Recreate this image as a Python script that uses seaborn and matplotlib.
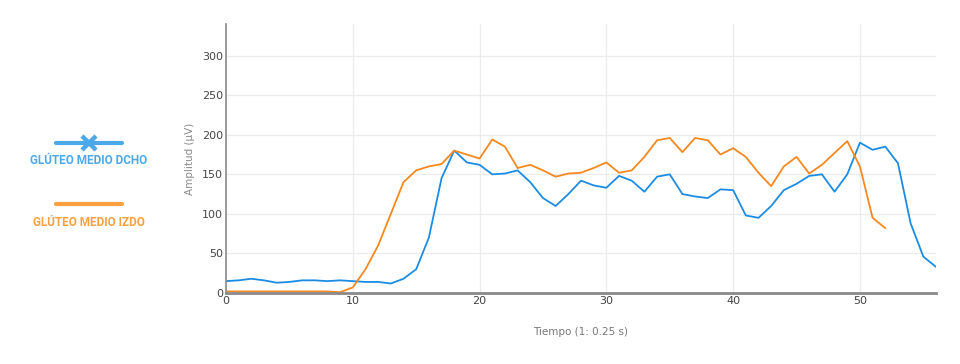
import numpy as np
import pandas as pd
import matplotlib
matplotlib.use("Agg")
import matplotlib.pyplot as plt
import seaborn as sns
from matplotlib.lines import Line2D

# Data
tiempo_dcho = list(range(0, 57))
dcho = [15, 16, 18, 16, 13, 14, 16, 16, 15, 16, 15, 14, 14, 12, 18, 30, 70, 145, 180, 165,
        162, 150, 151, 155, 140, 120, 110, 125, 142, 136, 133, 148, 142, 128, 147, 150,
        125, 122, 120, 131, 130, 98, 95, 110, 130, 138, 148, 150, 128, 150, 190, 181,
        185, 164, 88, 46, 33]
tiempo_izdo = list(range(0, 53))
izdo = [2, 2, 2, 2, 2, 2, 2, 2, 2, 1, 7, 30, 60, 100, 140, 155, 160, 163, 180, 175,
        170, 194, 185, 158, 162, 155, 147, 151, 152, 158, 165, 152, 155, 172, 193, 196,
        178, 196, 193, 175, 183, 172, 152, 135, 160, 172, 151, 162, 177, 192, 160, 95, 82]
series_names = ["GLÚTEO MEDIO DCHO", "GLÚTEO MEDIO IZDO"]
x_ticks = [0, 10, 20, 30, 40, 50]
y_ticks = [0, 50, 100, 150, 200, 250, 300]

df = pd.concat([
    pd.DataFrame({"t": tiempo_dcho, "v": dcho, "serie": series_names[0]}),
    pd.DataFrame({"t": tiempo_izdo, "v": izdo, "serie": series_names[1]}),
])

sns.set_style("white")
plt.rcParams["font.family"] = ["DejaVu Sans"]

line_colors = {series_names[0]: "#1c8ce3", series_names[1]: "#f7881f"}
leg_colors = ["#4ba9ea", "#f9a03f"]

fig = plt.figure(figsize=(9.6, 3.64), dpi=100)
ax = fig.add_axes([226/960, 1-293/364, (936-226)/960, (293-24)/364])
sns.lineplot(data=df, x="t", y="v", hue="serie", palette=line_colors, ax=ax,
             linewidth=1.3, legend=False)

ax.set_xlim(0, 56)
ax.set_ylim(0, 340)
ax.set_xticks(x_ticks)
ax.set_yticks(y_ticks)
ax.grid(True, color="#ececec", linewidth=0.9)
ax.set_axisbelow(True)
for s in ["top", "right"]:
    ax.spines[s].set_visible(False)
ax.spines["left"].set_color("#8a8a8a")
ax.spines["left"].set_linewidth(1.2)
ax.spines["bottom"].set_color("#8a8a8a")
ax.spines["bottom"].set_linewidth(2)
ax.tick_params(axis="both", length=0, labelsize=8, colors="#444444", pad=2)
ax.set_xlabel("Tiempo (1: 0.25 s)", fontsize=7.5, color="#777777", labelpad=15)
ax.set_ylabel("Amplitud (µV)", fontsize=7.5, color="#888888", labelpad=5)

# Custom legend on the left
legfont = dict(family=["Roboto", "DejaVu Sans"], fontweight="bold", fontsize=8.5,
               fontstretch="condensed")
fig.add_artist(Line2D([56/960, 122/960], [1-143/364, 1-143/364], color=leg_colors[0], lw=3))
fig.add_artist(Line2D([89/960], [1-143/364], marker="x", markersize=10, mew=3.2, color=leg_colors[0]))
fig.text(89/960, 1-160/364, series_names[0], color=leg_colors[0], ha="center", va="center", **legfont)
fig.add_artist(Line2D([56/960, 122/960], [1-204/364, 1-204/364], color=leg_colors[1], lw=3))
fig.text(89/960, 1-222/364, series_names[1], color=leg_colors[1], ha="center", va="center", **legfont)

fig.savefig("out.png", dpi=100)
